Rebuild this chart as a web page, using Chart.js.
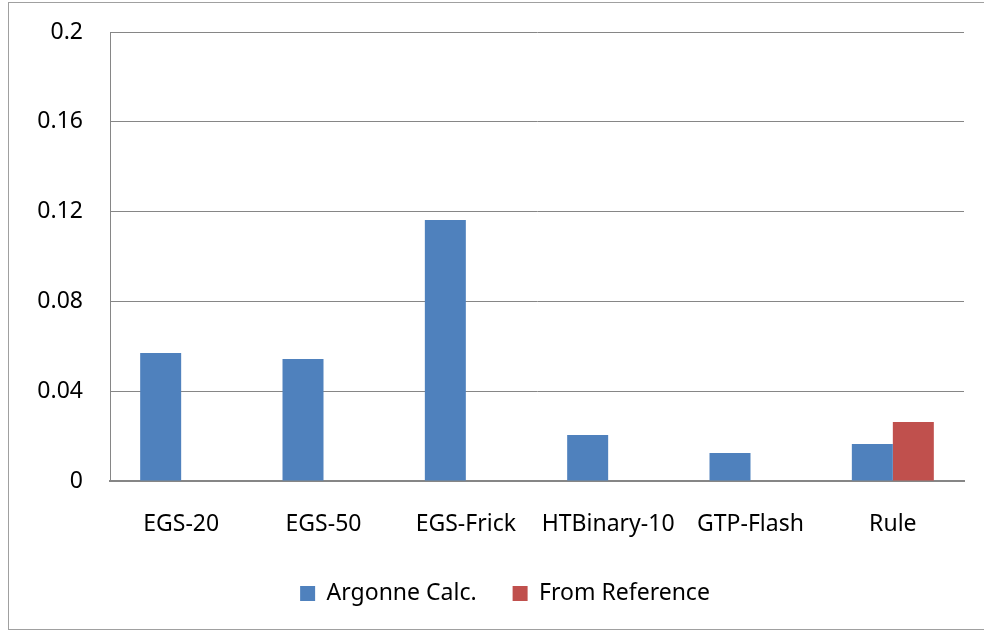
<!DOCTYPE html>
<html>
<head>
<meta charset="utf-8">
<script src="https://cdn.jsdelivr.net/npm/chart.js@4"></script>
<style>
  html, body { margin: 0; padding: 0; background: #fff; }
  #wrap { position: relative; width: 984px; height: 631px; }
</style>
</head>
<body>
<div id="wrap"><canvas id="chart" width="984" height="631"></canvas></div>
<script>
const categories = ['EGS-20', 'EGS-50', 'EGS-Frick', 'HTBinary-10', 'GTP-Flash', 'Rule'];
const argonneCalc = [0.057, 0.0543, 0.1163, 0.0205, 0.0125, 0.0165];
const fromReference = [null, null, null, null, null, 0.0263];
const yTickLabels = ['0', '0.04', '0.08', '0.12', '0.16', '0.2'];

const FONT = "'Noto Sans', sans-serif";

// grey frame round the whole chart, like the spreadsheet export
const framePlugin = {
    id: 'frame',
    beforeDraw(chart) {
        const ctx = chart.ctx;
        ctx.save();
        ctx.fillStyle = '#fff';
        ctx.fillRect(0, 0, chart.width, chart.height);
        ctx.strokeStyle = '#a0a0a0';
        ctx.lineWidth = 1;
        ctx.strokeRect(8.5, 2.5, 1000, 627);
        ctx.restore();
    }
};

const ctx = document.getElementById('chart').getContext('2d');
const chart = new Chart(ctx, {
    type: 'bar',
    data: {
        labels: categories,
        datasets: [
            {
                label: 'Argonne Calc.',
                backgroundColor: '#4F81BD',
                data: argonneCalc,
            },
            {
                label: 'From Reference',
                backgroundColor: '#C0504D',
                data: fromReference,
            }
        ]
    },
    options: {
        responsive: false,
        animation: false,
        categoryPercentage: 0.576,
        barPercentage: 1,
        layout: {
            // left padding only pushes the centred legend right
            padding: { left: 46, top: 32, right: 20, bottom: 16 }
        },
        plugins: {
            tooltip: { enabled: false },
            legend: {
                position: 'bottom',
                labels: {
                    font: { family: FONT, size: 23 },
                    color: '#000',
                    boxWidth: 15,
                    boxHeight: 15,
                    padding: 36
                }
            }
        },
        scales: {
            x: {
                grid: { display: false, drawTicks: false },
                border: { color: '#868686', width: 2 },
                ticks: {
                    font: { family: FONT, size: 23 },
                    color: '#000',
                    padding: 30,
                    maxRotation: 0
                },
                afterFit(scale) { scale.height = 65; }
            },
            y: {
                min: 0,
                max: 0.2,
                grid: { color: '#868686', drawTicks: false },
                border: { color: '#868686', width: 1 },
                ticks: {
                    stepSize: 0.04,
                    font: { family: FONT, size: 23 },
                    color: '#000',
                    padding: 27,
                    callback: (v, i) => yTickLabels[i]
                },
                afterFit(scale) {
                    scale.width = 64;
                    scale.paddingTop = 0;
                    scale.paddingBottom = 0;
                    // labels reach into the left padding, so don't clip them
                    scale._computeLabelArea = () => null;
                }
            }
        }
    },
    plugins: [framePlugin]
});
</script>
</body>
</html>
